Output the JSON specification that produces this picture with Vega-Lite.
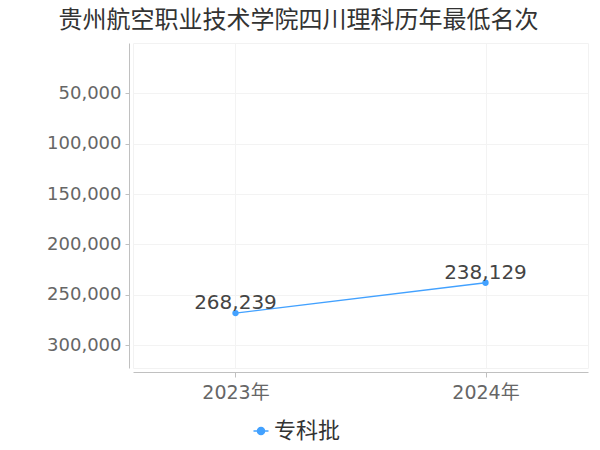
{
  "$schema": "https://vega.github.io/schema/vega-lite/v6.json",
  "autosize": {"type": "none"},
  "width": 455,
  "height": 325,
  "padding": {"left": 133, "top": 43, "right": 12, "bottom": 82},
  "background": "white",
  "config": {
    "font": "DejaVu Sans, Noto Sans CJK SC",
    "view": {"stroke": "#f2f2f2", "strokeWidth": 1}
  },
  "title": {
    "text": "贵州航空职业技术学院四川理科历年最低名次",
    "font": "Noto Sans CJK SC",
    "fontSize": 24,
    "fontWeight": "normal",
    "color": "#333333",
    "anchor": "middle",
    "dx": -62,
    "offset": 10
  },
  "data": {
    "values": [
      {"year": "2023年", "rank": 268239, "series": "专科批"},
      {"year": "2024年", "rank": 238129, "series": "专科批"}
    ]
  },
  "encoding": {
    "x": {
      "field": "year",
      "type": "ordinal",
      "scale": {"type": "point", "padding": 0.41},
      "axis": {
        "title": null,
        "labelAngle": 0,
        "labelFontSize": 19,
        "labelColor": "#666666",
        "labelFont": "DejaVu Sans, Noto Sans CJK SC",
        "labelPadding": 6,
        "domainColor": "#c0c0c0",
        "tickColor": "#c0c0c0",
        "tickSize": 5,
        "offset": 4,
        "grid": true,
        "gridColor": "#f3f3f3"
      }
    },
    "y": {
      "field": "rank",
      "type": "quantitative",
      "scale": {"domain": [0, 322800], "reverse": true, "nice": false, "zero": false},
      "axis": {
        "title": null,
        "values": [50000, 100000, 150000, 200000, 250000, 300000],
        "format": ",d",
        "labelFontSize": 18,
        "labelColor": "#666666",
        "labelPadding": 4,
        "domainColor": "#c0c0c0",
        "tickColor": "#c0c0c0",
        "tickSize": 4,
        "offset": 4,
        "grid": true,
        "gridColor": "#f3f3f3"
      }
    }
  },
  "layer": [
    {
      "mark": {"type": "line", "strokeWidth": 1.3},
      "encoding": {
        "color": {
          "field": "series",
          "type": "nominal",
          "scale": {"range": ["#42a1ff"]},
          "legend": {
            "title": null,
            "orient": "none",
            "legendX": 117,
            "legendY": 377,
            "direction": "horizontal",
            "labelFontSize": 22,
            "labelColor": "#333333",
            "labelFont": "Noto Sans CJK SC",
            "symbolType": "M -1 0 L 1 0 M 0.47 0 A 0.47 0.47 0 1 1 -0.47 0 A 0.47 0.47 0 1 1 0.47 0",
            "symbolSize": 225,
            "symbolStrokeWidth": 1.5,
            "symbolFillColor": "#42a1ff",
            "symbolStrokeColor": "#42a1ff",
            "labelOffset": 2
          }
        }
      }
    },
    {
      "mark": {"type": "circle", "size": 40, "opacity": 1, "color": "#42a1ff"}
    },
    {
      "mark": {"type": "text", "baseline": "alphabetic", "dy": -4, "fontSize": 20, "color": "#444444", "font": "DejaVu Sans"},
      "encoding": {"text": {"field": "rank", "type": "quantitative", "format": ",d"}}
    }
  ]
}
